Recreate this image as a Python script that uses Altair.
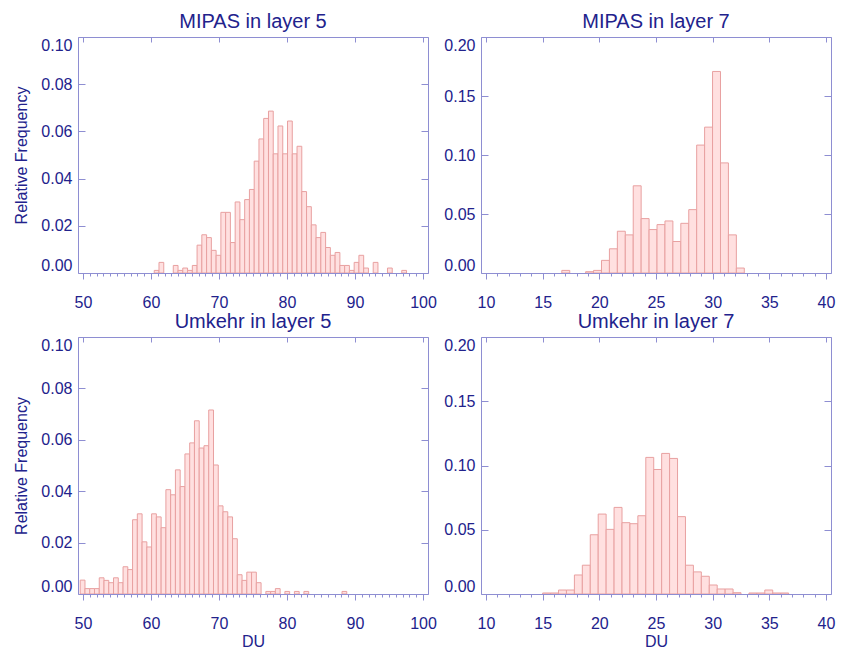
import altair as alt
import pandas as pd

# ---- data (bin width 0.7 DU, relative frequency) ----
BIN = 0.7

mipas5_start = 60.476
mipas5_vals = [0.0011, 0.0045, 0.0, 0.0, 0.0032, 0.0011, 0.0021, 0.0011, 0.0032, 0.0118,
               0.0162, 0.0150, 0.0096, 0.0075, 0.0257, 0.0257, 0.0129, 0.0301, 0.0226, 0.0311,
               0.0354, 0.0474, 0.0568, 0.0655, 0.0686, 0.0505, 0.0623, 0.0505, 0.0644, 0.0505,
               0.0537, 0.0345, 0.0281, 0.0204, 0.0150, 0.0172, 0.0108, 0.0075, 0.0087, 0.0032,
               0.0032, 0.0011, 0.0045, 0.0075, 0.0021, 0.0, 0.0045, 0.0, 0.0, 0.0021,
               0.0, 0.0, 0.0011]

mipas7_start = 16.69
mipas7_vals = [0.0022, 0.0, 0.0, 0.0011, 0.0022, 0.0107, 0.0205, 0.0354, 0.0323, 0.0739,
               0.0461, 0.0368, 0.0410, 0.0441, 0.0267, 0.0421, 0.0537, 0.1084, 0.1236, 0.1708,
               0.0933, 0.0323, 0.0042]

umkehr5_start = 49.59
umkehr5_vals = [0.0054, 0.0021, 0.0021, 0.0021, 0.0063, 0.0053, 0.0044, 0.0063, 0.0044, 0.0106,
                0.0095, 0.0289, 0.0312, 0.0203, 0.0183, 0.0312, 0.0300, 0.0258, 0.0406, 0.0386,
                0.0483, 0.0418, 0.0545, 0.0588, 0.0674, 0.0568, 0.0577, 0.0716, 0.0502, 0.0343,
                0.0320, 0.0300, 0.0215, 0.0075, 0.0053, 0.0085, 0.0085, 0.0044, 0.0, 0.0010,
                0.0010, 0.0021, 0.0, 0.0010, 0.0, 0.0010, 0.0, 0.0010, 0.0, 0.0,
                0.0, 0.0, 0.0, 0.0, 0.0, 0.0010]

umkehr7_start = 15.0
umkehr7_vals = [0.0008, 0.0008, 0.0031, 0.0031, 0.0148, 0.0224, 0.0461, 0.0622, 0.0503, 0.0674,
                0.0555, 0.0547, 0.0609, 0.1063, 0.0969, 0.1094, 0.1055, 0.0602, 0.0224, 0.0172,
                0.0138, 0.0070, 0.0039, 0.0039, 0.0010, 0.0, 0.0008, 0.0008, 0.0031, 0.0008,
                0.0008]

titles = ["MIPAS in layer 5", "MIPAS in layer 7", "Umkehr in layer 5", "Umkehr in layer 7"]
x_ticks_5 = [50, 60, 70, 80, 90, 100]
x_ticks_7 = [10, 15, 20, 25, 30, 35, 40]
y_ticks_5 = [0.0, 0.02, 0.04, 0.06, 0.08, 0.10]
y_ticks_7 = [0.0, 0.05, 0.10, 0.15, 0.20]

TEXT = "#22228c"
AXIS = "#8e8ed2"
FILL = "#ffe0e0"
STROKE = "#e8a0a0"
FONT = "Liberation Sans"


def table(start, vals):
    rows = []
    for i, v in enumerate(vals):
        if v > 0:
            rows.append({"x0": start + i * BIN, "x1": start + (i + 1) * BIN, "f": v})
    return pd.DataFrame(rows)


def panel(df, xmaj, ymaj, title, w, h, ytitle, xtitle):
    xdom = [xmaj[0], xmaj[-1]]
    ydom = [ymaj[0], ymaj[-1]]
    xs = alt.Scale(domain=xdom, nice=False, zero=False)
    ys = alt.Scale(domain=ydom, nice=False, zero=True)
    minor = list(range(xdom[0], xdom[1] + 1))

    bars = alt.Chart(df).mark_bar(fill=FILL, stroke=STROKE, strokeWidth=1, clip=True).encode(
        x=alt.X("x0:Q", scale=xs,
                axis=alt.Axis(orient="bottom", values=xmaj, tickSize=6, labelPadding=15,
                              labelFlush=False, title=xtitle, titlePadding=2)),
        x2="x1:Q",
        y=alt.Y("f:Q", scale=ys,
                axis=alt.Axis(orient="left", values=ymaj, format=".2f", offset=-7, tickSize=7,
                              labelPadding=6, labelFlush=True, title=ytitle, titlePadding=11)),
        y2=alt.datum(0),
    )
    frame_axes = alt.Chart(df).mark_bar(opacity=0, clip=True).encode(
        x=alt.X("x0:Q", scale=xs,
                axis=alt.Axis(orient="top", values=xmaj, labels=False, tickSize=5, offset=-5, title=None)),
        y=alt.Y("f:Q", scale=ys,
                axis=alt.Axis(orient="right", values=ymaj, labels=False, tickSize=7, offset=-7, title=None)),
    )
    minor_axis = alt.Chart(df).mark_bar(opacity=0, clip=True).encode(
        x=alt.X("x0:Q", scale=xs,
                axis=alt.Axis(orient="bottom", values=minor, labels=False, tickSize=3, title=None)),
        y=alt.Y("f:Q", scale=ys, axis=None),
    )
    return alt.layer(bars, frame_axes, minor_axis).resolve_axis(
        x="independent", y="independent"
    ).properties(
        width=w, height=h,
        title=alt.TitleParams(titles[title], fontSize=20, font=FONT, color=TEXT,
                              fontWeight="normal", offset=5),
    )


tl = panel(table(mipas5_start, mipas5_vals), x_ticks_5, y_ticks_5, 0, 350, 236, "Relative Frequency", None)
tr = panel(table(mipas7_start, mipas7_vals), x_ticks_7, y_ticks_7, 1, 350, 236, None, None)
bl = panel(table(umkehr5_start, umkehr5_vals), x_ticks_5, y_ticks_5, 2, 350, 257, "Relative Frequency", "DU")
br = panel(table(umkehr7_start, umkehr7_vals), x_ticks_7, y_ticks_7, 3, 350, 257, None, "DU")

chart = alt.vconcat(
    alt.hconcat(tl, tr, spacing=6),
    alt.hconcat(bl, br, spacing=6),
    spacing=0,
).configure_view(
    stroke=AXIS, strokeWidth=1
).configure_axis(
    grid=False, domain=False, tickColor=AXIS, tickWidth=1,
    labelFont=FONT, labelFontSize=16, labelColor=TEXT,
    titleFont=FONT, titleFontSize=16, titleColor=TEXT, titleFontWeight="normal",
).properties(
    padding={"left": 5, "top": 3, "right": 0, "bottom": 0},
    background="white",
)

chart.save("out.html", embed_options={"renderer": "svg", "actions": False})
